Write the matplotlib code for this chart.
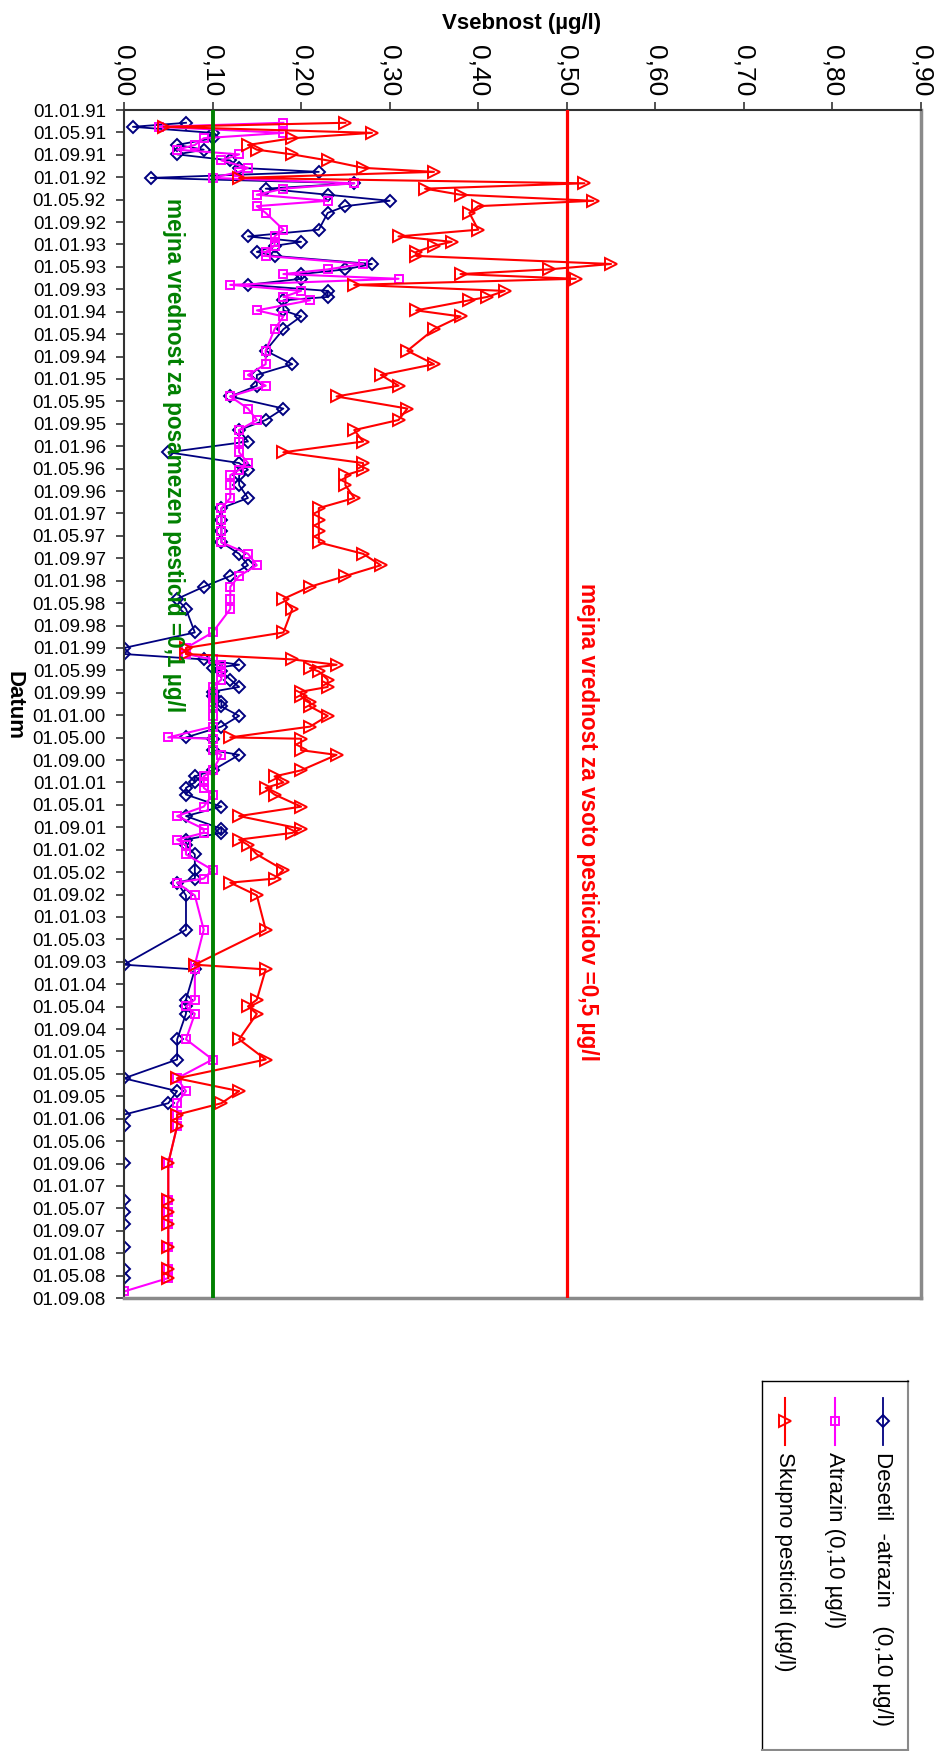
import matplotlib
matplotlib.use("Agg")
import matplotlib.pyplot as plt
import numpy as np

plt.rcParams['font.family'] = ['Liberation Sans', 'DejaVu Sans']

# sample dates as decimal years
datum = [1991.19, 1991.25, 1991.34, 1991.42, 1991.52, 1991.59, 1991.66, 1991.75, 1991.86, 1991.92,
         1992.01, 1992.09, 1992.17, 1992.26, 1992.35, 1992.43, 1992.53, 1992.78, 1992.88, 1992.96,
         1993.02, 1993.11, 1993.17, 1993.29, 1993.37, 1993.44, 1993.51, 1993.60, 1993.69, 1993.78,
         1993.83, 1993.98, 1994.07, 1994.26, 1994.58, 1994.78, 1994.94, 1995.10, 1995.26, 1995.44,
         1995.61, 1995.76, 1995.93, 1996.09, 1996.25, 1996.35, 1996.43, 1996.58, 1996.77, 1996.92,
         1997.10, 1997.26, 1997.43, 1997.60, 1997.77, 1997.93, 1998.09, 1998.27, 1998.42, 1998.77,
         1999.00, 1999.09, 1999.17, 1999.25, 1999.30, 1999.35, 1999.47, 1999.58, 1999.65, 1999.72,
         1999.80, 1999.87, 2000.01, 2000.17, 2000.33, 2000.35, 2000.52, 2000.59, 2000.82, 2000.91,
         2001.00, 2001.08, 2001.18, 2001.36, 2001.50, 2001.69, 2001.75, 2001.85, 2001.93, 2002.07,
         2002.30, 2002.43, 2002.49, 2002.68, 2003.19, 2003.71, 2003.78, 2004.23, 2004.33, 2004.44,
         2004.82, 2005.12, 2005.40, 2005.59, 2005.77, 2005.94, 2006.11, 2006.66, 2007.21, 2007.39,
         2007.57, 2007.91, 2008.23, 2008.37, 2008.57]

desetil = [0.07, 0.01, 0.10, 0.10, 0.06, 0.09, 0.06, 0.12, 0.13, 0.22,
           0.03, 0.26, 0.16, 0.23, 0.30, 0.25, 0.23, 0.22, 0.14, 0.20,
           0.17, 0.15, 0.17, 0.28, 0.25, 0.20, 0.20, 0.14, 0.23, 0.23,
           0.18, 0.18, 0.20, 0.18, 0.16, 0.19, 0.15, 0.15, 0.12, 0.18,
           0.16, 0.13, 0.14, 0.05, 0.13, 0.14, 0.13, 0.13, 0.14, 0.11,
           0.11, 0.11, 0.11, 0.13, 0.14, 0.12, 0.09, 0.06, 0.07, 0.08,
           0.00, 0.00, 0.09, 0.13, 0.10, 0.11, 0.12, 0.13, 0.10, 0.10,
           0.11, 0.11, 0.13, 0.11, 0.07, 0.10, 0.10, 0.13, 0.10, 0.08,
           0.08, 0.07, 0.07, 0.11, 0.07, 0.11, 0.11, 0.07, 0.07, 0.08,
           0.08, 0.08, 0.06, 0.07, 0.07, 0.00, 0.08, 0.07, 0.07, 0.07,
           0.06, 0.06, 0.00, 0.06, 0.05, 0.00, 0.00, 0.00, 0.00, 0.00,
           0.00, 0.00, 0.00, 0.00, np.nan]

atrazin = [0.18, 0.04, 0.18, 0.09, 0.08, 0.06, 0.13, 0.11, 0.14, 0.13,
           0.10, 0.26, 0.18, 0.15, 0.23, 0.15, 0.16, 0.18, 0.17, 0.17,
           0.17, 0.16, 0.16, 0.27, 0.23, 0.18, 0.31, 0.12, 0.20, 0.18,
           0.21, 0.15, 0.18, 0.17, 0.16, 0.16, 0.14, 0.16, 0.12, 0.14,
           0.15, 0.13, 0.13, 0.13, 0.14, 0.13, 0.12, 0.12, 0.12, 0.11,
           0.11, 0.11, 0.11, 0.14, 0.15, 0.13, 0.12, 0.12, 0.12, 0.10,
           0.07, 0.07, 0.10, 0.11, 0.11, 0.11, 0.11, 0.10, 0.10, 0.10,
           0.10, 0.10, 0.10, 0.10, 0.05, 0.10, 0.10, 0.11, 0.10, 0.09,
           0.09, 0.09, 0.10, 0.09, 0.06, 0.09, 0.09, 0.06, 0.07, 0.07,
           0.10, 0.09, 0.06, 0.08, 0.09, 0.08, 0.08, 0.08, 0.07, 0.08,
           0.07, 0.10, 0.06, 0.07, 0.06, 0.06, 0.06, 0.05, 0.05, 0.05,
           0.05, 0.05, 0.05, 0.05, 0.00]

skupno = [0.25, 0.045, 0.28, 0.19, 0.14, 0.15, 0.19, 0.23, 0.27, 0.35,
          0.13, 0.52, 0.34, 0.38, 0.53, 0.40, 0.39, 0.40, 0.31, 0.37,
          0.35, 0.33, 0.33, 0.55, 0.48, 0.38, 0.51, 0.26, 0.43, 0.41,
          0.39, 0.33, 0.38, 0.35, 0.32, 0.35, 0.29, 0.31, 0.24, 0.32,
          0.31, 0.26, 0.27, 0.18, 0.27, 0.27, 0.25, 0.25, 0.26, 0.22,
          0.22, 0.22, 0.22, 0.27, 0.29, 0.25, 0.21, 0.18, 0.19, 0.18,
          0.07, 0.07, 0.19, 0.24, 0.21, 0.22, 0.23, 0.23, 0.20, 0.20,
          0.21, 0.21, 0.23, 0.21, 0.12, 0.20, 0.20, 0.24, 0.20, 0.17,
          0.18, 0.16, 0.17, 0.20, 0.13, 0.20, 0.19, 0.13, 0.14, 0.15,
          0.18, 0.17, 0.12, 0.15, 0.16, 0.08, 0.16, 0.15, 0.14, 0.15,
          0.13, 0.16, 0.06, 0.13, 0.11, 0.06, 0.06, 0.05, 0.05, 0.05,
          0.05, 0.05, 0.05, 0.05, np.nan]

x_labels = ['0,00', '0,10', '0,20', '0,30', '0,40', '0,50', '0,60', '0,70', '0,80', '0,90']
date_labels = ['01.%02d.%02d' % (m, y % 100) for y in range(1991, 2009) for m in (1, 5, 9)]

series = [
    ('Desetil  -atrazin   (0,10 µg/l)', desetil, '#000080', 'D', 6.5, 1.3),
    ('Atrazin (0,10 µg/l)', atrazin, '#FF00FF', 's', 6.2, 1.5),
    ('Skupno pesticidi (µg/l)', skupno, '#FF0000', '>', 9, 1.5),
]

fig = plt.figure(figsize=(9.42, 17.51), dpi=100)
ax = fig.add_axes([124/942, 1 - 1298/1751, 797/942, 1188/1751])

t = np.array(datum)
for name, vals, col, mk, ms, lw in series:
    v = np.array(vals, dtype=float)
    ok = ~np.isnan(v)
    ax.plot(v[ok], t[ok], color=col, lw=lw, marker=mk, ms=ms, mfc='none',
            mec=col, mew=1.4)

# limit lines
ax.axvline(0.1, color='#008000', lw=2.8, zorder=5)
ax.axvline(0.5, color='#FF0000', lw=2.3, zorder=5)

ax.set_xlim(0, 0.9)
ax.set_ylim(2008 + 2/3, 1991)
ax.xaxis.tick_top()
ax.set_xticks(np.arange(10) / 10)
ax.set_xticklabels(x_labels, rotation=-90)
ax.set_yticks(1991 + np.arange(len(date_labels)) / 3)
ax.set_yticklabels(date_labels)
ax.tick_params(direction='out', length=6, width=1.2, color='#333333')
ax.tick_params(axis='x', pad=4, labelsize=19)
ax.tick_params(axis='y', pad=7, labelsize=13.5)

for s in ['top', 'left']:
    ax.spines[s].set_color('#333333')
    ax.spines[s].set_linewidth(1.5)
for s in ['right', 'bottom']:
    ax.spines[s].set_color('#8a8a8a')
    ax.spines[s].set_linewidth(2.5)

fig.text(522/942, 1 - 23/1751, 'Vsebnost (µg/l)', ha='center', va='center',
         fontsize=16, fontweight='bold')
fig.text(14/942, 1 - 705/1751, 'Datum', ha='center', va='center', rotation=-90,
         fontsize=16, fontweight='bold')

fig.text(173/942, 1 - 198/1751, 'mejna vrednost za posamezen pesticid =0,1 µg/l',
         rotation=-90, ha='center', va='top', color='#008000', fontsize=16.3,
         fontweight='bold', zorder=6)
fig.text(587/942, 1 - 583/1751, 'mejna vrednost za vsoto pesticidov =0,5 µg/l',
         rotation=-90, ha='center', va='top', color='#FF0000', fontsize=16.3,
         fontweight='bold', zorder=6)

# legend, drawn rotated like the rest of the chart
lax = fig.add_axes([762/942, 1/1751, 146/942, 369/1751])
lax.set_xlim(0, 146)
lax.set_ylim(369, 0)
lax.set_xticks([])
lax.set_yticks([])
for s in ['top', 'left']:
    lax.spines[s].set_color('#000000')
    lax.spines[s].set_linewidth(1.0)
for s in ['right', 'bottom']:
    lax.spines[s].set_color('#8a8a8a')
    lax.spines[s].set_linewidth(1.5)
for (name, vals, col, mk, ms, lw), xc in zip(series, [121, 73, 23]):
    lax.plot([xc, xc], [17, 64], color=col, lw=lw)
    lax.plot([xc], [40], color=col, marker=mk, ms=ms, mfc='none', mec=col, mew=1.4)
    lax.text(xc, 71, name, rotation=-90, ha='center', va='top', fontsize=16)

fig.savefig('out.png', dpi=100)
